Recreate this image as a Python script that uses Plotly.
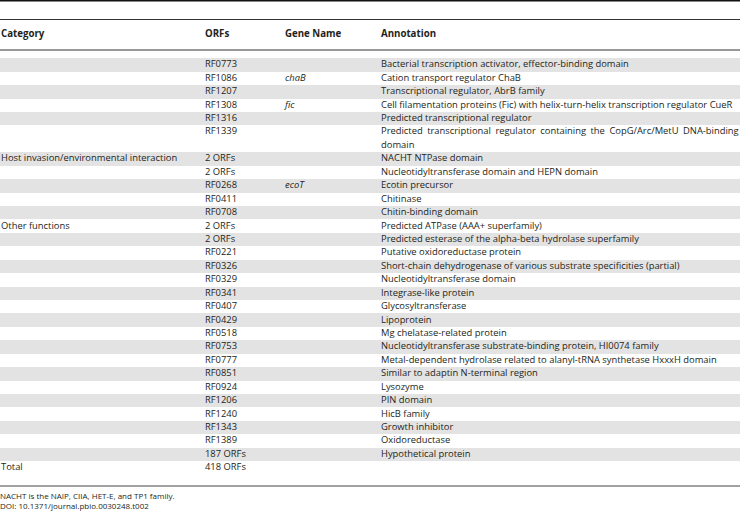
import plotly.graph_objects as go

# table content
categories = ["", "", "", "", "", "",
              "Host invasion/environmental interaction", "", "", "", "",
              "Other functions", "", "", "", "", "", "", "", "", "", "", "", "", "", "", "", "", "",
              "Total"]
orfs = ["RF0773", "RF1086", "RF1207", "RF1308", "RF1316", "RF1339",
        "2 ORFs", "2 ORFs", "RF0268", "RF0411", "RF0708",
        "2 ORFs", "2 ORFs", "RF0221", "RF0326", "RF0329", "RF0341", "RF0407", "RF0429",
        "RF0518", "RF0753", "RF0777", "RF0851", "RF0924", "RF1206", "RF1240", "RF1343",
        "RF1389", "187 ORFs", "418 ORFs"]
genes = ["", "chaB", "", "fic", "", "",
         "", "", "ecoT", "", "",
         "", "", "", "", "", "", "", "", "", "", "", "", "", "", "", "", "", "", ""]
annotations = [
    "Bacterial transcription activator, effector-binding domain",
    "Cation transport regulator ChaB",
    "Transcriptional regulator, AbrB family",
    "Cell filamentation proteins (Fic) with helix-turn-helix transcription regulator CueR",
    "Predicted transcriptional regulator",
    "Predicted transcriptional regulator containing the CopG/Arc/MetU DNA-binding|domain",
    "NACHT NTPase domain",
    "Nucleotidyltransferase domain and HEPN domain",
    "Ecotin precursor",
    "Chitinase",
    "Chitin-binding domain",
    "Predicted ATPase (AAA+ superfamily)",
    "Predicted esterase of the alpha-beta hydrolase superfamily",
    "Putative oxidoreductase protein",
    "Short-chain dehydrogenase of various substrate specificities (partial)",
    "Nucleotidyltransferase domain",
    "Integrase-like protein",
    "Glycosyltransferase",
    "Lipoprotein",
    "Mg chelatase-related protein",
    "Nucleotidyltransferase substrate-binding protein, HI0074 family",
    "Metal-dependent hydrolase related to alanyl-tRNA synthetase HxxxH domain",
    "Similar to adaptin N-terminal region",
    "Lysozyme",
    "PIN domain",
    "HicB family",
    "Growth inhibitor",
    "Oxidoreductase",
    "Hypothetical protein",
    "",
]
headers = ["Category", "ORFs", "Gene Name", "Annotation"]
footnotes = ["NACHT is the NAIP, CIIA, HET-E, and TP1 family.",
             "DOI: 10.1371/journal.pbio.0030248.t002"]

# layout (pixel-like coordinates)
col_x = [1, 205, 285, 381]
first_y = 65
pitch = 13.43
font = "Open Sans"
ink = "#231f20"
stripe = "#e3e3e3"

# line index for each row (the RF1339 annotation wraps onto 2 lines)
row_line = []
k = 0
for a in annotations:
    row_line.append(k)
    k += len(a.split("|"))


def ly(line):
    return first_y + pitch * line


fig = go.Figure()

# zebra stripes
band_y, band_w, band_c = [], [], []
for i, a in enumerate(annotations):
    nl = len(a.split("|"))
    band_y.append(ly(row_line[i]) + pitch * (nl - 1) / 2)
    band_w.append(pitch * nl)
    band_c.append(stripe if i % 2 == 0 else "rgba(0,0,0,0)")
fig.add_trace(go.Bar(
    orientation="h", y=band_y, x=[740] * len(band_y), base=0,
    width=band_w, marker=dict(color=band_c, line=dict(width=0)),
    hoverinfo="skip", showlegend=False))

txt_font = dict(family=font, size=9.4, color=ink)


def add_col(x, ys, texts, f=txt_font):
    fig.add_trace(go.Scatter(
        x=[x] * len(ys), y=ys, text=texts, mode="text",
        textposition="middle right", textfont=f,
        hoverinfo="skip", showlegend=False, cliponaxis=False))


add_col(col_x[0], [ly(l) for l in row_line], categories)
add_col(col_x[1], [ly(l) for l in row_line], orfs)
add_col(col_x[2], [ly(l) for l in row_line], ["<i>%s</i>" % g if g else "" for g in genes])

# annotation lines (a wrapped cell gets one entry per line; the first line is
# stretched to the full width like justified text)
gap = '<span style="font-size:8px">\u00a0</span>'
ann_y, ann_t = [], []
for i, a in enumerate(annotations):
    parts = a.split("|")
    for j, p in enumerate(parts):
        if j < len(parts) - 1:
            p = p.replace(" ", " " + gap)
        ann_y.append(ly(row_line[i] + j))
        ann_t.append(p)
add_col(col_x[3], ann_y, ann_t)

# header
fig.add_trace(go.Scatter(
    x=col_x, y=[35] * 4,
    text=["<b>%s</b>" % h for h in headers], mode="text",
    textposition="middle right", textfont=dict(family=font, size=9.7, color=ink),
    hoverinfo="skip", showlegend=False, cliponaxis=False))

# footnotes
fig.add_trace(go.Scatter(
    x=[0, 0], y=[497, 507], text=footnotes, mode="text",
    textposition="middle right", textfont=dict(family=font, size=8, color=ink),
    hoverinfo="skip", showlegend=False, cliponaxis=False))

# horizontal rules
rules = [(0.8, 1.6, "#111111"), (19.5, 1, "#333333"), (50, 1, "#333333"), (486, 1, "#444444")]
shapes = [dict(type="line", xref="x", yref="y", x0=0, x1=740, y0=r[0], y1=r[0],
               line=dict(color=r[2], width=r[1])) for r in rules]

fig.update_layout(
    width=740, height=520, margin=dict(l=0, r=0, t=0, b=0),
    paper_bgcolor="white", plot_bgcolor="white",
    xaxis=dict(range=[0, 740], visible=False, fixedrange=True),
    yaxis=dict(range=[520, 0], visible=False, fixedrange=True),
    shapes=shapes, bargap=0,
)

fig.write_html("out.html", config={"displayModeBar": False},
               post_script="document.body.style.margin='0';document.body.style.overflow='hidden';")
